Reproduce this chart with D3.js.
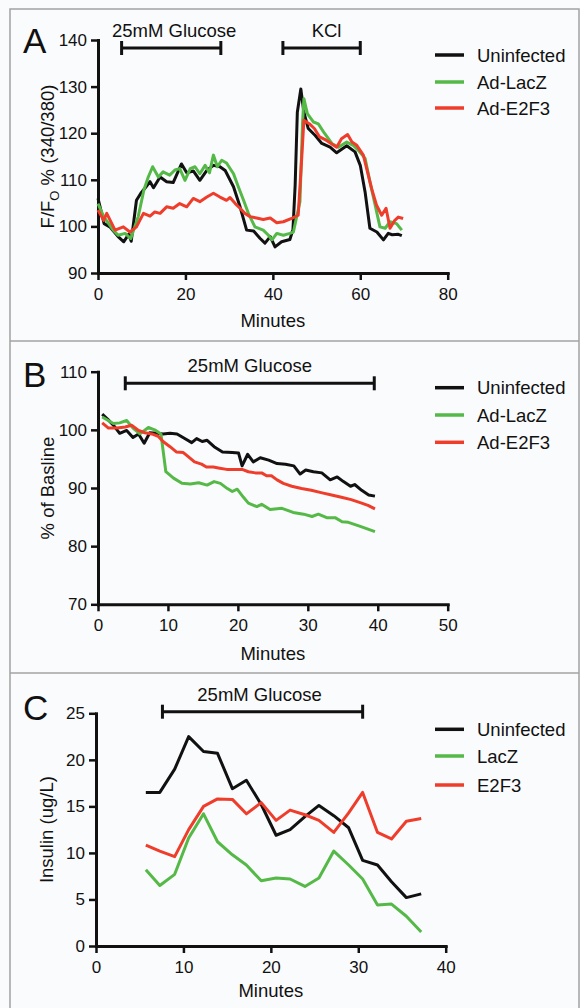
<!DOCTYPE html>
<html>
<head>
<meta charset="utf-8">
<script src="https://cdn.jsdelivr.net/npm/d3@7"></script>
<style>
  body { margin: 0; background: #fff; }
  text { font-family: "Liberation Sans", Arial, sans-serif; fill: #111; }
</style>
</head>
<body>
<svg id="chart" width="580" height="1008"></svg>
<script>
// ---- panel A : Fura-2 ratio, minutes vs F/Fo %
const uninfectedA = [[0,106.0],[1.4,100.6],[2.7,99.9],[4.6,97.8],[5.9,96.7],[7.0,98.3],[7.6,96.8],[8.8,105.6],[9.8,107.1],[11.0,108.5],[11.9,109.6],[12.7,108.3],[14.2,110.6],[15.7,109.6],[17.2,109.4],[19.1,113.4],[20.3,111.5],[21.8,111.9],[23.3,109.9],[24.9,112.0],[26.4,113.1],[27.9,112.8],[29.1,112.0],[31.0,108.5],[32.5,104.2],[34.0,99.2],[35.6,99.0],[37.1,97.4],[38.2,96.4],[39.4,97.8],[40.5,95.6],[42.0,96.7],[43.9,97.2],[44.6,99.3],[45.1,108.8],[45.6,124.5],[46.4,129.5],[47.1,124.5],[48.1,121.0],[49.7,119.5],[51.2,117.8],[53.1,117.0],[54.6,115.8],[56.9,117.3],[58.8,116.0],[60.0,113.1],[61.1,107.4],[62.2,99.6],[63.8,98.8],[65.3,97.1],[66.4,98.5],[67.3,98.2],[68.7,98.3],[69.5,98.0]];
const lacZA = [[0,104.9],[1.3,102.1],[3.5,99.2],[4.6,98.1],[6.2,98.5],[7.5,97.4],[9.2,102.1],[10.5,107.8],[11.5,110.6],[12.5,112.8],[13.8,110.6],[14.9,111.7],[16.4,111.0],[17.6,112.1],[18.7,112.4],[19.9,109.9],[21.1,112.4],[22.2,112.8],[23.3,111.3],[24.5,113.1],[25.5,111.5],[26.4,115.3],[27.3,112.8],[28.3,114.2],[29.4,113.6],[31.0,111.3],[32.1,108.5],[33.3,105.6],[34.4,102.8],[35.9,99.9],[37.8,99.2],[39.0,98.1],[39.8,97.1],[40.9,98.5],[42.4,98.1],[43.9,98.5],[44.7,98.8],[46.2,105.3],[46.8,122.4],[47.1,127.4],[47.9,124.2],[49.3,122.4],[50.4,122.0],[51.8,120.0],[53.5,117.8],[55.0,117.0],[56.9,118.1],[58.4,117.4],[59.6,116.3],[61.1,114.6],[62.2,109.6],[63.4,104.6],[64.5,99.9],[65.7,99.6],[66.8,101.0],[68.3,100.6],[69.5,99.2]];
const e2f3A = [[0,103.5],[1.3,101.3],[2.0,102.8],[3.9,99.2],[5.8,99.9],[7.3,98.8],[8.8,99.9],[10.4,102.8],[11.9,102.2],[13.0,103.1],[14.2,102.8],[15.7,104.2],[17.2,103.9],[18.7,104.9],[20.3,104.2],[21.8,106.0],[23.3,105.3],[24.9,106.3],[26.4,107.1],[27.9,106.3],[29.4,105.6],[30.2,106.2],[31.4,104.9],[32.5,103.9],[33.6,102.8],[34.8,102.1],[36.3,101.8],[37.8,101.5],[39.4,101.8],[40.9,100.8],[42.4,101.0],[44.3,101.7],[45.8,102.4],[46.6,114.6],[47.1,122.8],[48.4,122.0],[49.5,121.0],[50.7,119.2],[52.2,118.5],[54.6,117.0],[55.7,118.8],[57.1,119.7],[58.1,118.1],[59.2,117.4],[60.7,115.3],[62.6,108.1],[63.7,104.6],[64.9,102.4],[65.9,103.9],[66.8,99.6],[67.9,101.3],[68.7,102.0],[69.8,101.7]];

// ---- panel B : % of baseline
const uninfectedB = [[0.6,102.7],[1.4,101.8],[2.2,100.8],[3.1,99.4],[4.1,99.9],[5.0,98.7],[5.8,99.3],[6.6,97.7],[7.4,99.5],[8.4,99.4],[9.3,99.3],[10.3,99.4],[11.3,99.3],[12.4,98.5],[13.4,97.8],[14.1,98.5],[14.9,98.0],[15.6,98.2],[16.6,97.1],[17.8,96.2],[19.2,96.1],[20.1,96.0],[20.6,93.8],[21.4,95.8],[22.2,94.5],[23.2,95.2],[24.4,94.8],[25.6,94.2],[26.8,94.1],[28.0,93.8],[28.9,92.4],[29.7,93.1],[30.8,92.8],[32.0,92.6],[33.2,91.4],[34.2,91.9],[35.1,91.1],[36.1,90.3],[36.7,90.6],[37.7,89.6],[38.7,88.8],[39.6,88.6]];
const lacZB = [[0.6,102.2],[2.2,101.1],[3.1,101.2],[4.1,101.6],[5.0,100.3],[6.0,99.3],[7.2,100.4],[8.1,100.0],[9.0,99.3],[9.7,92.8],[10.8,91.7],[12.0,90.8],[13.2,90.7],[14.4,90.9],[15.6,90.5],[16.6,91.1],[17.5,90.8],[18.5,89.9],[19.2,89.4],[19.9,89.8],[20.8,88.4],[21.5,87.4],[22.7,86.8],[23.4,87.2],[24.6,86.3],[26.3,86.5],[27.9,85.8],[29.4,85.5],[30.6,85.1],[31.5,85.5],[32.7,84.9],[33.9,84.9],[34.9,84.2],[35.8,84.1],[37.5,83.4],[39.6,82.5]];
const e2f3B = [[0.6,101.2],[1.5,100.3],[2.7,100.3],[3.9,100.5],[4.8,100.8],[5.8,99.9],[6.7,99.5],[7.7,99.3],[8.6,98.9],[9.3,98.0],[10.3,97.1],[11.2,96.2],[12.2,96.1],[12.9,95.4],[13.8,94.5],[14.8,94.1],[15.5,93.6],[16.5,93.6],[17.4,93.4],[18.4,93.2],[19.6,93.2],[20.6,93.2],[21.5,92.8],[22.5,92.6],[23.4,92.6],[24.1,92.1],[24.8,92.1],[25.6,91.4],[26.5,90.8],[27.7,90.3],[29.1,89.9],[30.5,89.6],[31.9,89.2],[33.4,88.8],[34.8,88.4],[36.2,88.0],[37.7,87.4],[38.6,87.0],[39.6,86.4]];

// ---- panel C : insulin (ug/L)
const minutesC    = [5.7, 7.3, 9.0, 10.6, 12.3, 13.9, 15.6, 17.2, 18.9, 20.6, 22.2, 23.9, 25.5, 27.2, 28.9, 30.5, 32.2, 33.8, 35.5, 37.2];
const uninfectedC = [16.5, 16.5, 19.0, 22.5, 20.9, 20.7, 16.9, 17.8, 15.2, 11.9, 12.5, 13.9, 15.1, 14.0, 12.7, 9.2, 8.7, 6.9, 5.2, 5.6];
const lacZC       = [8.2, 6.5, 7.7, 11.6, 14.2, 11.2, 9.8, 8.7, 7.0, 7.3, 7.2, 6.4, 7.3, 10.2, 8.7, 7.2, 4.4, 4.5, 3.2, 1.5];
const e2f3C       = [10.85, 10.2, 9.6, 12.5, 15.0, 15.8, 15.75, 14.2, 15.4, 13.5, 14.6, 14.1, 13.5, 12.2, 14.3, 16.5, 12.2, 11.5, 13.4, 13.7];

const legendAB = ['Uninfected', 'Ad-LacZ', 'Ad-E2F3'];
const legendC  = ['Uninfected', 'LacZ', 'E2F3'];
const colors = ['#111111', '#55b947', '#ef3d2b'];

const svg = d3.select('#chart');
svg.append('rect').attr('width', 580).attr('height', 1008).attr('fill', '#fafbfd');

// panel frames
const frame = svg.append('g').attr('stroke', '#a3a3a3').attr('stroke-width', 1.5).attr('fill', 'none');
frame.append('path').attr('d', 'M10,1008 V9 H579 V1008');
frame.append('line').attr('x1', 10).attr('x2', 579).attr('y1', 341).attr('y2', 341);
frame.append('line').attr('x1', 10).attr('x2', 579).attr('y1', 673).attr('y2', 673);

function drawPanel(cfg) {
  const x = d3.scaleLinear().domain(cfg.xDomain).range([cfg.left, cfg.right]);
  const y = d3.scaleLinear().domain(cfg.yDomain).range([cfg.bottom, cfg.top]);
  const g = svg.append('g');

  // axes
  const xAxis = g.append('g')
    .attr('transform', `translate(0,${cfg.bottom})`)
    .call(d3.axisBottom(x).tickValues(cfg.xTicks).tickSize(7).tickSizeOuter(0).tickPadding(8).tickFormat(d3.format('d')));
  const yAxis = g.append('g')
    .attr('transform', `translate(${cfg.left},0)`)
    .call(d3.axisLeft(y).tickValues(cfg.yTicks).tickSize(7).tickSizeOuter(0).tickPadding(4).tickFormat(d3.format('d')));
  [xAxis, yAxis].forEach(a => {
    a.select('.domain').attr('stroke', '#111').attr('stroke-width', 3).attr('stroke-linecap', 'square');
    a.selectAll('.tick line').attr('stroke', '#111').attr('stroke-width', 2.5);
    a.selectAll('.tick text').attr('font-size', 17).attr('fill', '#111')
      .attr('font-family', '"Liberation Sans", Arial, sans-serif');
  });

  // series
  const line = d3.line().x(d => x(d[0])).y(d => y(d[1]));
  cfg.series.forEach((s, i) => {
    g.append('path').datum(s)
      .attr('d', line)
      .attr('fill', 'none')
      .attr('stroke', colors[i])
      .attr('stroke-width', 3)
      .attr('stroke-linejoin', 'round');
  });

  // treatment brackets
  cfg.brackets.forEach(b => {
    const x0 = x(b.from), x1 = x(b.to);
    const bg = g.append('g').attr('stroke', '#111').attr('stroke-width', 3);
    bg.append('line').attr('x1', x0).attr('x2', x1).attr('y1', cfg.bracketY).attr('y2', cfg.bracketY);
    bg.append('line').attr('x1', x0).attr('x2', x0).attr('y1', cfg.bracketY - 7).attr('y2', cfg.bracketY + 7);
    bg.append('line').attr('x1', x1).attr('x2', x1).attr('y1', cfg.bracketY - 7).attr('y2', cfg.bracketY + 7);
    g.append('text')
      .attr('x', (x0 + x1) / 2 + (b.dx || 0))
      .attr('y', cfg.bracketY - 11)
      .attr('text-anchor', 'middle')
      .attr('font-size', 18.5)
      .text(b.label);
  });

  // legend
  cfg.legend.forEach((name, i) => {
    const ly = cfg.legendY[i];
    g.append('line').attr('x1', 435).attr('x2', 464).attr('y1', ly).attr('y2', ly)
      .attr('stroke', colors[i]).attr('stroke-width', 3.5);
    g.append('text').attr('x', 477).attr('y', ly).attr('dy', '0.36em')
      .attr('font-size', 18.5).text(name);
  });

  // panel letter
  g.append('text').attr('x', 23).attr('y', cfg.letterY)
    .attr('font-size', 35).text(cfg.letter);

  // axis titles
  g.append('text')
    .attr('x', (cfg.left + cfg.right) / 2)
    .attr('y', cfg.xTitleY)
    .attr('text-anchor', 'middle')
    .attr('font-size', 18.5)
    .text('Minutes');
  const yt = g.append('text')
    .attr('transform', `translate(${cfg.yTitleX},${(cfg.top + cfg.bottom) / 2}) rotate(-90)`)
    .attr('text-anchor', 'middle')
    .attr('font-size', 18.5);
  cfg.yTitle(yt);
}

drawPanel({
  letter: 'A', letterY: 53,
  xDomain: [0, 80], left: 98, right: 447.7,
  yDomain: [90, 140], bottom: 273, top: 40,
  xTicks: [0, 20, 40, 60, 80], yTicks: [90, 100, 110, 120, 130, 140],
  series: [uninfectedA, lacZA, e2f3A],
  bracketY: 48,
  brackets: [{ from: 5.4, to: 28.1, label: '25mM Glucose', dx: 3 }, { from: 42.3, to: 60, label: 'KCl', dx: 5 }],
  legend: legendAB, legendY: [55, 82, 108],
  xTitleY: 327, yTitleX: 54,
  yTitle: t => {
    t.append('tspan').text('F/F');
    t.append('tspan').attr('font-size', 13).attr('dy', 5).text('O');
    t.append('tspan').attr('dy', -5).text(' % (340/380)');
  }
});

drawPanel({
  letter: 'B', letterY: 387,
  xDomain: [0, 50], left: 98, right: 447.7,
  yDomain: [70, 110], bottom: 604.3, top: 371.7,
  xTicks: [0, 10, 20, 30, 40, 50], yTicks: [70, 80, 90, 100, 110],
  series: [uninfectedB, lacZB, e2f3B],
  bracketY: 383.3,
  brackets: [{ from: 3.9, to: 39.5, label: '25mM Glucose' }],
  legend: legendAB, legendY: [387.7, 415, 442.3],
  xTitleY: 660, yTitleX: 54,
  yTitle: t => t.text('% of Basline')
});

drawPanel({
  letter: 'C', letterY: 720,
  xDomain: [0, 40], left: 96, right: 445.7,
  yDomain: [0, 25], bottom: 946, top: 713.3,
  xTicks: [0, 10, 20, 30, 40], yTicks: [0, 5, 10, 15, 20, 25],
  series: [uninfectedC, lacZC, e2f3C].map(vals => vals.map((v, i) => [minutesC[i], v])),
  bracketY: 711.7,
  brackets: [{ from: 7.6, to: 30.5, label: '25mM Glucose', dx: -3 }],
  legend: legendC, legendY: [729.3, 756, 785],
  xTitleY: 997, yTitleX: 53,
  yTitle: t => t.text('Insulin (ug/L)')
});
</script>
</body>
</html>
